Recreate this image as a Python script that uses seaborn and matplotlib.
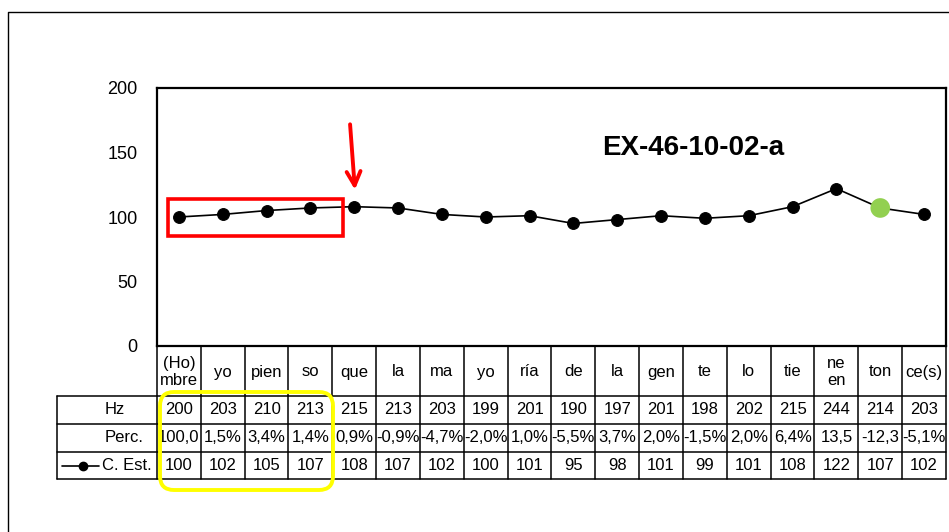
import matplotlib
matplotlib.use("Agg")
import matplotlib.pyplot as plt
import matplotlib.transforms as mtransforms
from matplotlib.lines import Line2D
from matplotlib.patches import Rectangle, FancyBboxPatch
import seaborn as sns
import pandas as pd

# ---- data ----
syllables = ["(Ho)\nmbre", "yo", "pien", "so", "que", "la", "ma", "yo", "ría", "de",
             "la", "gen", "te", "lo", "tie", "ne\nen", "ton", "ce(s)"]
hz = [200, 203, 210, 213, 215, 213, 203, 199, 201, 190, 197, 201, 198, 202, 215, 244, 214, 203]
perc = ["100,0", "1,5%", "3,4%", "1,4%", "0,9%", "-0,9%", "-4,7%", "-2,0%", "1,0%", "-5,5%",
        "3,7%", "2,0%", "-1,5%", "2,0%", "6,4%", "13,5", "-12,3", "-5,1%"]
c_est = [100, 102, 105, 107, 108, 107, 102, 100, 101, 95, 98, 101, 99, 101, 108, 122, 107, 102]
row_labels = ["Hz", "Perc.", "C. Est."]
yticks = [0, 50, 100, 150, 200]
title = "EX-46-10-02-a"
highlight_idx = 16

sns.set_style("white")
plt.rcParams["font.family"] = ["Liberation Sans", "DejaVu Sans"]
plt.rcParams["text.color"] = "black"
plt.rcParams["ytick.color"] = "black"

W, H = 949, 532
fig = plt.figure(figsize=(W / 100, H / 100), dpi=100)
ax_l, ax_r, ax_t, ax_b = 157, 946, 88, 346
ax = fig.add_axes([ax_l / W, 1 - ax_b / H, (ax_r - ax_l) / W, (ax_b - ax_t) / H])

df = pd.DataFrame({"pos": range(len(c_est)), "val": c_est})
sns.lineplot(data=df, x="pos", y="val", ax=ax, color="black", lw=1.2,
             marker="o", markersize=8.5, markeredgecolor="black", markerfacecolor="black")
sns.scatterplot(x=[highlight_idx], y=[c_est[highlight_idx]], ax=ax, color="#92D050",
                s=200, edgecolor="none", zorder=5)

ax.set_xlim(-0.5, len(c_est) - 0.5)
ax.set_ylim(0, 200)
ax.set_yticks(yticks)
ax.set_yticklabels([str(t) for t in yticks], fontsize=13, color="black")
ax.tick_params(axis="y", length=0, pad=14)
ax.set_xticks([])
ax.set_xlabel("")
ax.set_ylabel("")
for s in ax.spines.values():
    s.set_visible(True)
    s.set_color("black")
    s.set_linewidth(1.6)

ax.text(0.679, 0.767, title, transform=ax.transAxes, ha="center", va="center",
        fontsize=20, fontweight="bold", color="black")

# red box and arrow
ax.add_patch(Rectangle((-0.25, 85), 3.99, 29, fill=False, edgecolor="#FF0000", lw=2.6, zorder=6))
ax.annotate("", xy=(4.02, 119), xytext=(3.9, 174),
            arrowprops=dict(arrowstyle="->,head_length=1.0,head_width=0.5", color="#FF0000", lw=2.8))

# ---- data table below the axes ----
def fy(py):
    return 1 - py / H

tr = mtransforms.blended_transform_factory(ax.transData, fig.transFigure)
n = len(c_est)
left_x = -0.5 - (ax_l - 57) / ((ax_r - ax_l) / n)
y_top, y_hdr, y_r1, y_r2, y_r3 = 346, 396, 424, 452, 479

for i in range(n + 1):
    xe = i - 0.5
    fig.add_artist(Line2D([xe, xe], [fy(y_top), fy(y_r3)], transform=tr, color="black", lw=1.1))
for yy in [y_hdr, y_r1, y_r2, y_r3]:
    fig.add_artist(Line2D([left_x, n - 0.5], [fy(yy), fy(yy)], transform=tr, color="black", lw=1.1))
fig.add_artist(Line2D([left_x, left_x], [fy(y_hdr), fy(y_r3)], transform=tr, color="black", lw=1.1))

fs = 12
for i, lab in enumerate(syllables):
    fig.text(i, fy((y_top + y_hdr) / 2 + 1), lab, transform=tr, ha="center", va="center",
             fontsize=fs, linespacing=1.15)
rows_y = [(y_hdr + y_r1) / 2, (y_r1 + y_r2) / 2, (y_r2 + y_r3) / 2]
for i in range(n):
    fig.text(i, fy(rows_y[0]), str(hz[i]), transform=tr, ha="center", va="center", fontsize=fs)
    fig.text(i, fy(rows_y[1]), perc[i], transform=tr, ha="center", va="center", fontsize=fs)
    fig.text(i, fy(rows_y[2]), str(c_est[i]), transform=tr, ha="center", va="center", fontsize=fs)

fig.text(115 / W, fy(rows_y[0]), row_labels[0], ha="center", va="center", fontsize=fs)
fig.text(124 / W, fy(rows_y[1]), row_labels[1], ha="center", va="center", fontsize=fs)
fig.text(152 / W, fy(rows_y[2]), row_labels[2], ha="right", va="center", fontsize=fs)
fig.add_artist(Line2D([62 / W, 99 / W], [fy(rows_y[2]), fy(rows_y[2])], transform=fig.transFigure,
                      color="black", lw=1.2))
fig.add_artist(Line2D([83 / W], [fy(rows_y[2])], transform=fig.transFigure, color="black",
                      marker="o", markersize=6))

# yellow rounded box
fig.add_artist(FancyBboxPatch((160 / 100, (H - 490) / 100), (333 - 160) / 100, (490 - 392) / 100,
                              boxstyle="round,pad=0,rounding_size=0.14",
                              transform=fig.dpi_scale_trans, fill=False,
                              edgecolor="#FFFF00", lw=2.8, zorder=10))

# outer frame (left and top)
fig.add_artist(Line2D([8 / W, 8 / W, 1.0], [0.0, fy(12), fy(12)], transform=fig.transFigure,
                      color="black", lw=1.0))

fig.savefig("out.png", dpi=100)
